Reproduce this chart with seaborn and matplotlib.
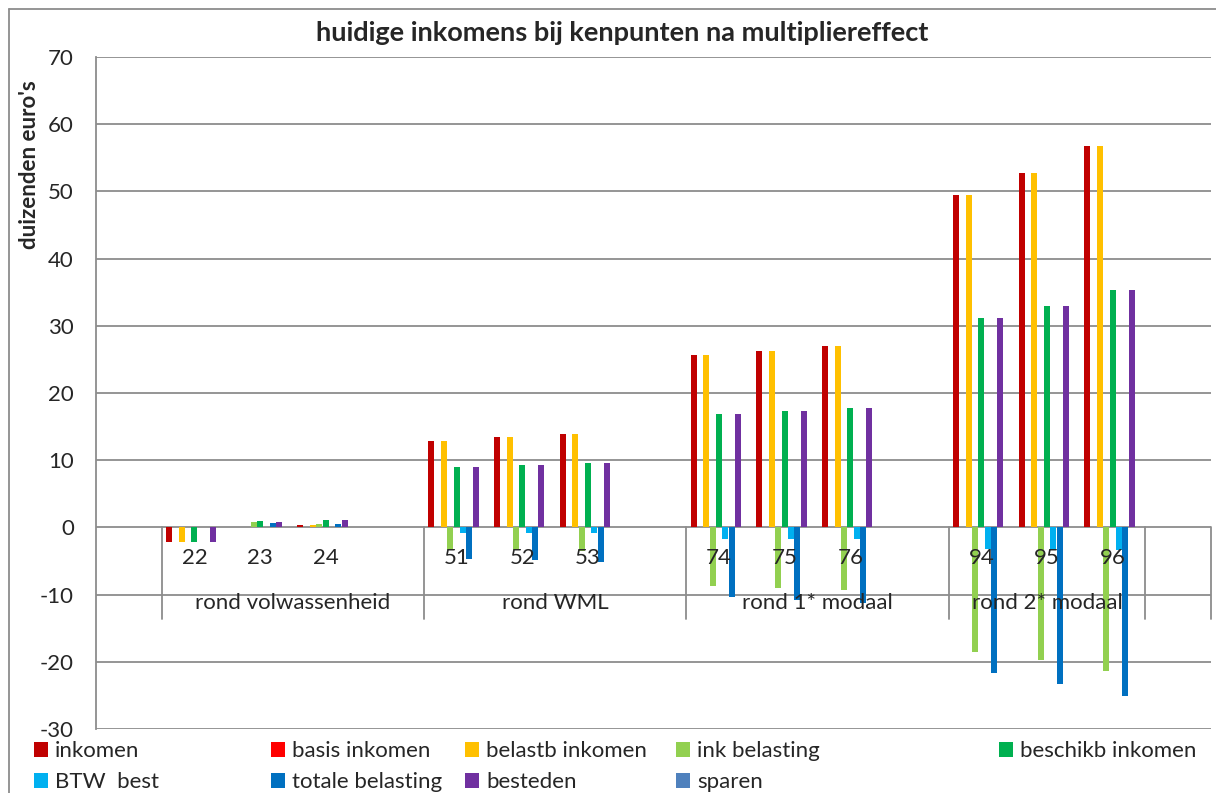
import matplotlib
matplotlib.use("Agg")
import matplotlib.pyplot as plt
import seaborn as sns
import pandas as pd
from matplotlib.lines import Line2D

# categories on the axis (17 slots, some left empty like in the original sheet)
cat_ids = ["e0", "22", "23", "24", "e1", "51", "52", "53", "e2",
           "74", "75", "76", "e3", "94", "95", "96", "e4"]
cat_labels = ["", "22", "23", "24", "", "51", "52", "53", "",
              "74", "75", "76", "", "94", "95", "96", ""]
groups = ["", "rond volwassenheid", "rond WML", "rond 1* modaal", "rond 2* modaal", ""]
group_sizes = [1, 4, 4, 4, 3, 1]

points = ["22", "23", "24", "51", "52", "53", "74", "75", "76", "94", "95", "96"]

series = ["inkomen", "basis inkomen", "belastb inkomen", "ink belasting",
          "beschikb inkomen", "BTW  best", "totale belasting", "besteden", "sparen"]
colors = ["#C00000", "#FF0000", "#FFC000", "#92D050", "#00B050",
          "#00B0F0", "#0070C0", "#7030A0", "#4F81BD"]

inkomen = [-2.2, 0, 0.4, 12.9, 13.4, 13.9, 25.7, 26.3, 27.0, 49.5, 52.7, 56.7]
basis_inkomen = [0] * 12
belastb_inkomen = [-2.2, 0, 0.4, 12.9, 13.4, 13.9, 25.7, 26.3, 27.0, 49.5, 52.7, 56.7]
ink_belasting = [0, 0.75, 0.55, -3.3, -3.4, -3.5, -8.7, -9.0, -9.3, -18.5, -19.8, -21.4]
beschikb_inkomen = [-2.2, 0.9, 1.1, 9.0, 9.3, 9.6, 16.9, 17.3, 17.7, 31.1, 33.0, 35.3]
btw_best = [0, 0, 0, -0.8, -0.8, -0.8, -1.8, -1.8, -1.8, -3.2, -3.3, -3.4]
totale_belasting = [0, 0.65, 0.55, -4.7, -4.9, -5.2, -10.4, -10.8, -11.2, -21.7, -23.3, -25.1]
besteden = [-2.2, 0.85, 1.15, 9.0, 9.3, 9.6, 16.9, 17.3, 17.7, 31.1, 33.0, 35.3]
sparen = [0] * 12

values = [inkomen, basis_inkomen, belastb_inkomen, ink_belasting, beschikb_inkomen,
          btw_best, totale_belasting, besteden, sparen]

rows = []
for name, vals in zip(series, values):
    for p, v in zip(points, vals):
        rows.append({"cat": p, "serie": name, "waarde": v})
df = pd.DataFrame(rows)

sns.set_theme(style="white")
plt.rcParams['font.family'] = ['Lato', 'DejaVu Sans']
plt.rcParams['axes.unicode_minus'] = False

fig = plt.figure(figsize=(12.16, 7.93), dpi=100)
ax = fig.add_axes([96 / 1216, 1 - 729 / 793, (1211 - 96) / 1216, (729 - 57) / 793])

sns.barplot(data=df, x="cat", y="waarde", hue="serie", order=cat_ids, hue_order=series,
            palette=colors, saturation=1, width=0.87, gap=0.05, linewidth=0,
            errorbar=None, legend=True, ax=ax)
handles, labels = ax.get_legend_handles_labels()
ax.get_legend().remove()

grid_col = "#8c8c8c"
ax.set_xlim(-0.5, len(cat_ids) - 0.5)
ax.set_ylim(-30, 70)
ax.set_yticks(range(-30, 71, 10))
ax.yaxis.grid(True, color=grid_col, linewidth=1.3)
ax.set_axisbelow(True)
ax.tick_params(axis="y", length=0, pad=16, labelsize=16)
ax.set_xticks([])
ax.set_xlabel("")
ax.set_ylabel("")
for s in ["top", "right", "bottom"]:
    ax.spines[s].set_visible(False)
ax.spines["left"].set_color(grid_col)
ax.spines["left"].set_linewidth(1.3)

# multi-level category axis
for i, lab in enumerate(cat_labels):
    ax.text(i, -4.6, lab, ha="center", va="center", fontsize=16)
pos = -0.5
for g, n in zip(groups, group_sizes):
    if pos > -0.5:
        ax.plot([pos, pos], [0, -13.7], color=grid_col, lw=1.3, clip_on=False)
    ax.text(pos + n / 2, -11.3, g, ha="center", va="center", fontsize=16)
    pos += n
ax.plot([pos, pos], [0, -13.7], color=grid_col, lw=1.3, clip_on=False)

fig.text(622 / 1216, 1 - 33 / 793, "huidige inkomens bij kenpunten na multipliereffect",
         ha="center", va="center", fontsize=19.5, fontweight="bold")
fig.text(30 / 1216, 1 - 165 / 793, "duizenden euro's", rotation=90,
         ha="center", va="center", fontsize=16, fontweight="bold")

# legend: 5 columns, 2 rows
col_x = [34, 271, 465, 676, 999]
for c, x in enumerate(col_x):
    h = handles[c::5]
    l = labels[c::5]
    fig.legend(h, l, loc="upper left", bbox_to_anchor=(x / 1216, 1 - 741 / 793),
               frameon=False, fontsize=16, handlelength=0.65, handleheight=0.65,
               handletextpad=0.3, labelspacing=0.5, borderaxespad=0, borderpad=0)

# chart frame
fig.add_artist(Line2D([9 / 1216, 9 / 1216], [0, 1 - 9 / 793], color=grid_col, lw=1.3))
fig.add_artist(Line2D([9 / 1216, 1], [1 - 9 / 793, 1 - 9 / 793], color=grid_col, lw=1.3))

fig.savefig("out.png", dpi=100)
